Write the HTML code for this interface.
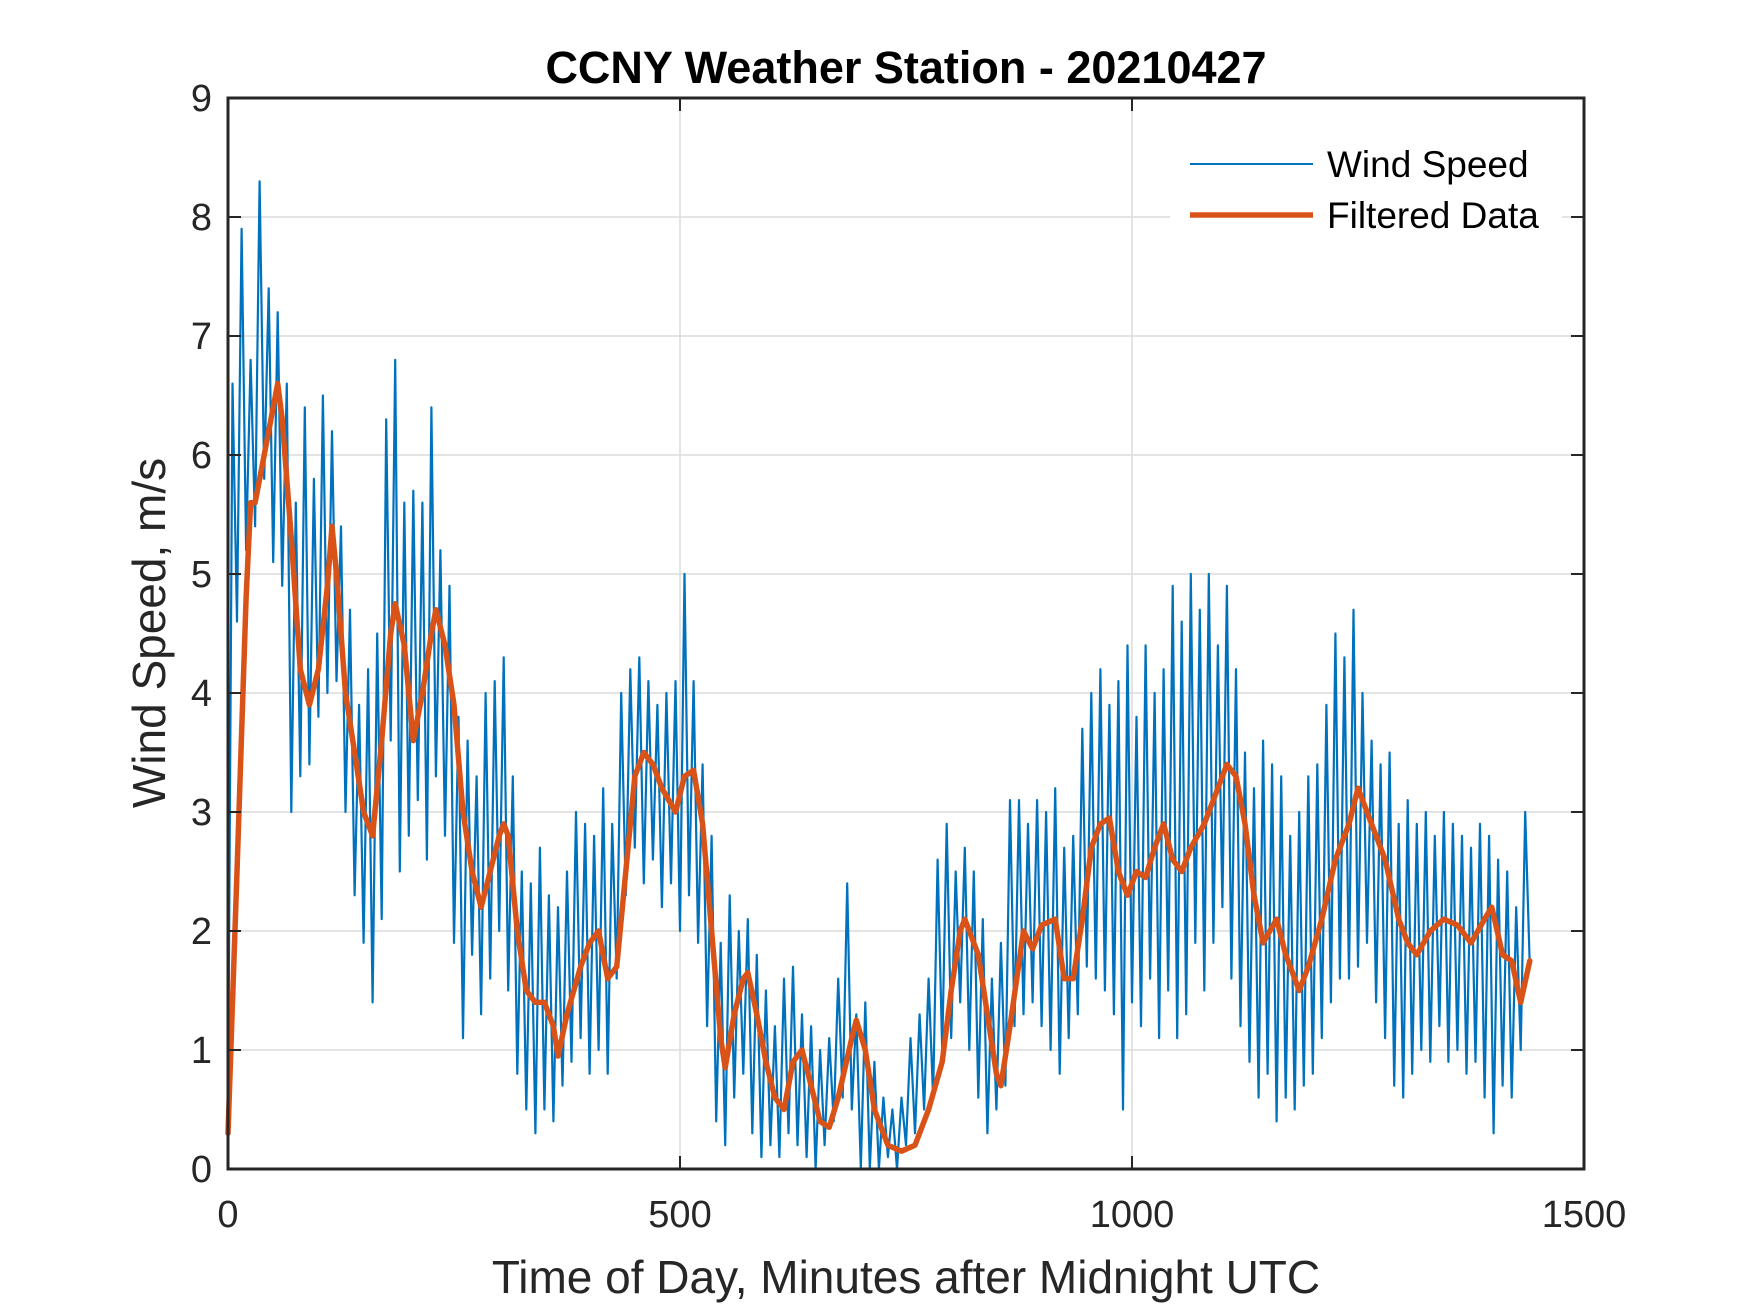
<!DOCTYPE html>
<html><head><meta charset="utf-8"><style>
html,body{margin:0;padding:0;background:#fff;}
svg{display:block;font-family:"Liberation Sans",Arial,sans-serif;}
</style></head><body>
<svg id="chart" width="1750" height="1313" viewBox="0 0 1750 1313">
<rect width="1750" height="1313" fill="#fff"/>
<g id="grid"></g>
<g id="series"></g>
<g id="axes"></g>
<text x="906" y="83" text-anchor="middle" font-size="45" font-weight="bold" fill="#000">CCNY Weather Station - 20210427</text>
<text x="906" y="1293" text-anchor="middle" font-size="46" fill="#262626">Time of Day, Minutes after Midnight UTC</text>
<text transform="translate(165,633) rotate(-90)" text-anchor="middle" font-size="46" fill="#262626">Wind Speed, m/s</text>
<g>
<rect x="1170" y="136" width="392" height="108" fill="#fff"/>
<line x1="1190" y1="164" x2="1313" y2="164" stroke="#0072BD" stroke-width="2"/>
<text x="1327" y="177" font-size="37" fill="#000">Wind Speed</text>
<line x1="1190" y1="215" x2="1313" y2="215" stroke="#D95319" stroke-width="5.5"/>
<text x="1327" y="228" font-size="37" fill="#000">Filtered Data</text>
</g>
</svg>
<script>
const xTicks=[0,500,1000,1500];
const yTicks=[0,1,2,3,4,5,6,7,8,9];
const windSpeed=[0.4,6.6,4.6,7.9,5.2,6.8,5.4,8.3,5.8,7.4,5.1,7.2,
4.9,6.6,3.0,5.6,3.3,6.4,3.4,5.8,3.8,6.5,4.0,6.2,
4.1,5.4,3.0,4.7,2.3,3.9,1.9,4.2,1.4,4.5,2.1,6.3,
3.6,6.8,2.5,5.6,2.8,5.7,3.1,5.6,2.6,6.4,3.3,5.2,
2.8,4.9,1.9,3.8,1.1,3.6,1.8,3.3,1.3,4.0,1.6,4.1,
2.0,4.3,1.5,3.3,0.8,2.5,0.5,2.4,0.3,2.7,0.5,2.3,
0.4,2.2,0.7,2.5,0.9,3.0,1.1,2.9,0.8,2.8,1.0,3.2,
0.8,2.9,1.6,4.0,2.3,4.2,2.7,4.3,2.4,4.1,2.6,3.9,
2.2,4.0,2.4,4.1,2.0,5.0,2.3,4.1,1.9,3.4,1.2,2.8,
0.4,1.9,0.2,2.3,0.6,2.0,0.8,2.1,0.3,1.8,0.1,1.5,
0.2,1.2,0.1,1.6,0.3,1.7,0.2,1.3,0.1,1.2,0.0,1.0,
0.2,1.1,0.4,1.6,0.6,2.4,0.5,1.3,0.0,1.4,0.0,0.9,
0.0,0.6,0.1,0.5,0.0,0.6,0.2,1.1,0.3,1.3,0.5,1.6,
0.6,2.6,1.0,2.9,1.1,2.5,1.4,2.7,1.0,2.5,0.6,2.1,
0.3,1.6,0.5,1.9,0.7,3.1,1.2,3.1,1.3,2.9,1.4,3.1,
1.2,3.0,1.0,3.2,0.8,2.7,1.1,2.8,1.3,3.7,1.7,4.0,
1.6,4.2,1.5,3.9,1.3,4.1,0.5,4.4,1.4,3.8,1.2,4.4,
1.6,4.0,1.1,4.2,1.5,4.9,1.1,4.6,1.3,5.0,1.9,4.7,
1.5,5.0,1.9,4.4,2.2,4.9,1.6,4.2,1.2,3.5,0.9,3.2,
0.6,3.6,0.8,3.4,0.4,3.3,0.6,2.8,0.5,3.0,0.7,3.3,
0.8,3.4,1.1,3.9,1.4,4.5,1.6,4.3,1.6,4.7,1.7,4.0,
1.9,3.6,1.4,3.4,1.1,3.5,0.7,2.9,0.6,3.1,0.8,2.9,
1.0,3.0,0.9,2.8,1.2,3.0,0.9,2.9,1.0,2.8,0.8,2.7,
0.9,2.9,0.6,2.8,0.3,2.6,0.7,2.5,0.6,2.2,1.0,3.0,
1.7];
const windStepMinutes=5;
const filtMinutes=[0,10,20,25,30,40,50,55,60,70,80,90,100,110,115,120,130,140,150,160,170,180,185,195,205,215,225,230,240,250,260,270,280,290,300,305,310,320,330,340,350,360,365,375,390,400,410,420,430,440,450,460,470,480,495,505,515,525,535,545,550,560,570,575,585,595,605,615,625,635,645,655,665,675,690,695,705,715,730,745,760,775,790,800,810,815,830,840,850,855,865,880,890,900,915,925,935,945,955,965,975,985,995,1005,1015,1025,1035,1045,1055,1065,1080,1095,1105,1115,1125,1135,1145,1160,1170,1185,1195,1210,1225,1240,1250,1260,1270,1280,1295,1305,1315,1330,1345,1360,1375,1390,1398,1410,1420,1430,1440];
const filtSpeed=[0.3,2.5,4.8,5.6,5.6,6.0,6.4,6.6,6.3,5.3,4.2,3.9,4.2,4.9,5.4,5.0,4.0,3.5,3.0,2.8,3.6,4.5,4.75,4.4,3.6,4.0,4.5,4.7,4.4,3.9,3.0,2.5,2.2,2.5,2.8,2.9,2.8,2.0,1.5,1.4,1.4,1.2,0.95,1.3,1.7,1.9,2.0,1.6,1.7,2.5,3.3,3.5,3.4,3.2,3.0,3.3,3.35,2.9,2.0,1.1,0.85,1.3,1.6,1.65,1.3,0.9,0.6,0.5,0.9,1.0,0.7,0.4,0.35,0.6,1.1,1.25,1.0,0.5,0.2,0.15,0.2,0.5,0.9,1.5,2.0,2.1,1.8,1.3,0.8,0.7,1.2,2.0,1.85,2.05,2.1,1.6,1.6,2.1,2.7,2.9,2.95,2.5,2.3,2.5,2.45,2.7,2.9,2.6,2.5,2.7,2.9,3.2,3.4,3.3,2.9,2.3,1.9,2.1,1.8,1.5,1.7,2.1,2.6,2.9,3.2,3.0,2.8,2.6,2.1,1.9,1.8,2.0,2.1,2.05,1.9,2.1,2.2,1.8,1.75,1.4,1.75];

const L=228,R=1584,T=98,B=1169;
const xS=v=>L+(v-0)/(1500-0)*(R-L);
const yS=v=>B-(v-0)/(9-0)*(B-T);
const NS='http://www.w3.org/2000/svg';
function mk(tag,attrs,parent){const e=document.createElementNS(NS,tag);for(const k in attrs)e.setAttribute(k,attrs[k]);parent.appendChild(e);return e;}
const grid=document.getElementById('grid'),series=document.getElementById('series'),axes=document.getElementById('axes');

xTicks.forEach(t=>{
  const g=mk('line',{x1:xS(t),x2:xS(t),y1:T,y2:B,stroke:'#dcdcdc','stroke-width':1.5},grid);
  
  
  const tk=mk('line',{x1:xS(t),x2:xS(t),y1:B,y2:B-13,stroke:'#262626','stroke-width':2},axes);
  
  
  const tk2=mk('line',{x1:xS(t),x2:xS(t),y1:T,y2:T+13,stroke:'#262626','stroke-width':2},axes);
  
  
  const lb=mk('text',{x:xS(t),y:1227,'text-anchor':'middle','font-size':38,fill:'#262626'},axes);
  lb.textContent=t;
  
  
});
yTicks.forEach(t=>{
  const g=mk('line',{x1:L,x2:R,y1:yS(t),y2:yS(t),stroke:'#dcdcdc','stroke-width':1.5},grid);
  
  
  const tk=mk('line',{x1:L,x2:L+13,y1:yS(t),y2:yS(t),stroke:'#262626','stroke-width':2},axes);
  
  
  const tk2=mk('line',{x1:R,x2:R-13,y1:yS(t),y2:yS(t),stroke:'#262626','stroke-width':2},axes);
  
  
  const lb=mk('text',{x:212,y:yS(t)+13,'text-anchor':'end','font-size':38,fill:'#262626'},axes);
  lb.textContent=t;
  
  
});
const frame=mk('rect',{x:L,y:T,width:R-L,height:B-T,fill:'none',stroke:'#262626','stroke-width':3},axes);



const wp=windSpeed.map((v,i)=>xS(i*windStepMinutes).toFixed(1)+','+yS(v).toFixed(1)).join(' ');
const wl=mk('polyline',{points:wp,fill:'none',stroke:'#0072BD','stroke-width':2.2,'stroke-linejoin':'round'},series);


const fp=filtMinutes.map((m,i)=>xS(m).toFixed(1)+','+yS(filtSpeed[i]).toFixed(1)).join(' ');
const fl=mk('polyline',{points:fp,fill:'none',stroke:'#D95319','stroke-width':5.5,'stroke-linejoin':'round','stroke-linecap':'round'},series);


</script>
</body></html>
